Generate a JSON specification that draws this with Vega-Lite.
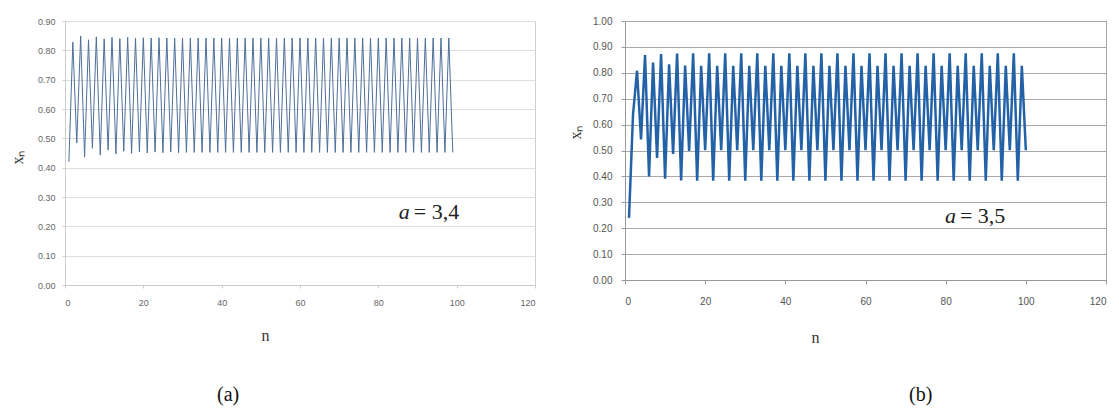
{
  "$schema": "https://vega.github.io/schema/vega-lite/v6.json",
  "background": "white",
  "padding": {"left": 8, "top": 15, "right": 0, "bottom": 0},
  "bounds": "flush",
  "spacing": 90,
  "datasets": {
    "a": [
      {"n":1,"x":0.420},{"n":2,"x":0.828},{"n":3,"x":0.484},{"n":4,"x":0.849},{"n":5,"x":0.436},{"n":6,"x":0.836},{"n":7,"x":0.466},{"n":8,"x":0.846},{"n":9,"x":0.443},{"n":10,"x":0.839},
      {"n":11,"x":0.460},{"n":12,"x":0.844},{"n":13,"x":0.447},{"n":14,"x":0.840},{"n":15,"x":0.456},{"n":16,"x":0.844},{"n":17,"x":0.449},{"n":18,"x":0.841},{"n":19,"x":0.454},{"n":20,"x":0.843},
      {"n":21,"x":0.450},{"n":22,"x":0.842},{"n":23,"x":0.453},{"n":24,"x":0.843},{"n":25,"x":0.451},{"n":26,"x":0.842},{"n":27,"x":0.453},{"n":28,"x":0.842},{"n":29,"x":0.451},{"n":30,"x":0.842},
      {"n":31,"x":0.452},{"n":32,"x":0.842},{"n":33,"x":0.452},{"n":34,"x":0.842},{"n":35,"x":0.452},{"n":36,"x":0.842},{"n":37,"x":0.452},{"n":38,"x":0.842},{"n":39,"x":0.452},{"n":40,"x":0.842},
      {"n":41,"x":0.452},{"n":42,"x":0.842},{"n":43,"x":0.452},{"n":44,"x":0.842},{"n":45,"x":0.452},{"n":46,"x":0.842},{"n":47,"x":0.452},{"n":48,"x":0.842},{"n":49,"x":0.452},{"n":50,"x":0.842},
      {"n":51,"x":0.452},{"n":52,"x":0.842},{"n":53,"x":0.452},{"n":54,"x":0.842},{"n":55,"x":0.452},{"n":56,"x":0.842},{"n":57,"x":0.452},{"n":58,"x":0.842},{"n":59,"x":0.452},{"n":60,"x":0.842},
      {"n":61,"x":0.452},{"n":62,"x":0.842},{"n":63,"x":0.452},{"n":64,"x":0.842},{"n":65,"x":0.452},{"n":66,"x":0.842},{"n":67,"x":0.452},{"n":68,"x":0.842},{"n":69,"x":0.452},{"n":70,"x":0.842},
      {"n":71,"x":0.452},{"n":72,"x":0.842},{"n":73,"x":0.452},{"n":74,"x":0.842},{"n":75,"x":0.452},{"n":76,"x":0.842},{"n":77,"x":0.452},{"n":78,"x":0.842},{"n":79,"x":0.452},{"n":80,"x":0.842},
      {"n":81,"x":0.452},{"n":82,"x":0.842},{"n":83,"x":0.452},{"n":84,"x":0.842},{"n":85,"x":0.452},{"n":86,"x":0.842},{"n":87,"x":0.452},{"n":88,"x":0.842},{"n":89,"x":0.452},{"n":90,"x":0.842},
      {"n":91,"x":0.452},{"n":92,"x":0.842},{"n":93,"x":0.452},{"n":94,"x":0.842},{"n":95,"x":0.452},{"n":96,"x":0.842},{"n":97,"x":0.452},{"n":98,"x":0.842},{"n":99,"x":0.452}
    ],
    "b": [
      {"n":1,"x":0.240},{"n":2,"x":0.638},{"n":3,"x":0.808},{"n":4,"x":0.543},{"n":5,"x":0.869},{"n":6,"x":0.400},{"n":7,"x":0.840},{"n":8,"x":0.471},{"n":9,"x":0.872},{"n":10,"x":0.391},
      {"n":11,"x":0.833},{"n":12,"x":0.487},{"n":13,"x":0.874},{"n":14,"x":0.384},{"n":15,"x":0.828},{"n":16,"x":0.498},{"n":17,"x":0.875},{"n":18,"x":0.383},{"n":19,"x":0.827},{"n":20,"x":0.501},
      {"n":21,"x":0.875},{"n":22,"x":0.383},{"n":23,"x":0.827},{"n":24,"x":0.501},{"n":25,"x":0.875},{"n":26,"x":0.383},{"n":27,"x":0.827},{"n":28,"x":0.501},{"n":29,"x":0.875},{"n":30,"x":0.383},
      {"n":31,"x":0.827},{"n":32,"x":0.501},{"n":33,"x":0.875},{"n":34,"x":0.383},{"n":35,"x":0.827},{"n":36,"x":0.501},{"n":37,"x":0.875},{"n":38,"x":0.383},{"n":39,"x":0.827},{"n":40,"x":0.501},
      {"n":41,"x":0.875},{"n":42,"x":0.383},{"n":43,"x":0.827},{"n":44,"x":0.501},{"n":45,"x":0.875},{"n":46,"x":0.383},{"n":47,"x":0.827},{"n":48,"x":0.501},{"n":49,"x":0.875},{"n":50,"x":0.383},
      {"n":51,"x":0.827},{"n":52,"x":0.501},{"n":53,"x":0.875},{"n":54,"x":0.383},{"n":55,"x":0.827},{"n":56,"x":0.501},{"n":57,"x":0.875},{"n":58,"x":0.383},{"n":59,"x":0.827},{"n":60,"x":0.501},
      {"n":61,"x":0.875},{"n":62,"x":0.383},{"n":63,"x":0.827},{"n":64,"x":0.501},{"n":65,"x":0.875},{"n":66,"x":0.383},{"n":67,"x":0.827},{"n":68,"x":0.501},{"n":69,"x":0.875},{"n":70,"x":0.383},
      {"n":71,"x":0.827},{"n":72,"x":0.501},{"n":73,"x":0.875},{"n":74,"x":0.383},{"n":75,"x":0.827},{"n":76,"x":0.501},{"n":77,"x":0.875},{"n":78,"x":0.383},{"n":79,"x":0.827},{"n":80,"x":0.501},
      {"n":81,"x":0.875},{"n":82,"x":0.383},{"n":83,"x":0.827},{"n":84,"x":0.501},{"n":85,"x":0.875},{"n":86,"x":0.383},{"n":87,"x":0.827},{"n":88,"x":0.501},{"n":89,"x":0.875},{"n":90,"x":0.383},
      {"n":91,"x":0.827},{"n":92,"x":0.501},{"n":93,"x":0.875},{"n":94,"x":0.383},{"n":95,"x":0.827},{"n":96,"x":0.501},{"n":97,"x":0.875},{"n":98,"x":0.383},{"n":99,"x":0.827},{"n":100,"x":0.501}
    ]
  },
  "config": {
    "axis": {"labelFont": "Liberation Sans", "titleFont": "Liberation Serif", "titleFontWeight": "normal", "titleColor": "#333", "grid": true, "labelOverlap": false, "tickCount": 20},
    "title": {"font": "Liberation Serif", "fontWeight": "normal", "fontSize": 20, "color": "#111"}
  },
  "hconcat": [
    {
      "width": 470,
      "height": 264,
      "view": {"stroke": "#cfcfcf", "strokeWidth": 1},
      "title": {"text": "(a)", "orient": "bottom", "anchor": "start", "dx": 208, "offset": 42},
      "layer": [
        {
          "data": {"name": "a"},
          "mark": {"type": "line", "color": "#4d6f9a", "strokeWidth": 1},
          "encoding": {
            "x": {"field": "n", "type": "quantitative", "scale": {"domain": [0, 120], "nice": false},
                  "axis": {"title": "n", "values": [0,20,40,60,80,100,120], "grid": false, "labelFontSize": 9, "labelColor": "#666", "tickSize": 3, "tickColor": "#ccc", "domainColor": "#ccc", "labelPadding": 10, "titleFontSize": 16, "titleX": 200, "titleY": 50, "titleBaseline": "middle"}},
            "y": {"field": "x", "type": "quantitative", "scale": {"domain": [0, 0.9], "nice": false},
                  "axis": {"title": "xₙ", "values": [0,0.1,0.2,0.3,0.4,0.5,0.6,0.7,0.8,0.9], "format": ".2f", "gridColor": "#dedede", "labelFontSize": 9, "labelColor": "#666", "tickSize": 3, "tickColor": "#ccc", "domainColor": "#ccc", "labelPadding": 7, "titleFontSize": 16, "titleX": -48, "titleY": 136, "titleAngle": -90, "titleAlign": "center", "titleBaseline": "middle"}}
          }
        },
        {
          "data": {"values": [{}]},
          "mark": {"type": "text", "text": "a", "font": "Liberation Serif", "fontStyle": "italic", "fontSize": 22, "align": "right", "baseline": "middle", "dx": -3, "color": "#222"},
          "encoding": {"x": {"datum": 88.8}, "y": {"datum": 0.25}}
        },
        {
          "data": {"values": [{}]},
          "mark": {"type": "text", "text": "= 3,4", "font": "Liberation Serif", "fontSize": 22, "align": "left", "baseline": "middle", "dx": 1, "color": "#222"},
          "encoding": {"x": {"datum": 88.8}, "y": {"datum": 0.25}}
        }
      ]
    },
    {
      "width": 481,
      "height": 259,
      "view": {"stroke": "#a8a8a8", "strokeWidth": 1},
      "title": {"text": "(b)", "orient": "bottom", "anchor": "start", "dx": 342, "offset": 40},
      "layer": [
        {
          "data": {"name": "b"},
          "mark": {"type": "line", "color": "#2462a8", "strokeWidth": 2.5},
          "encoding": {
            "x": {"field": "n", "type": "quantitative", "scale": {"domain": [0, 120], "nice": false},
                  "axis": {"title": "n", "values": [0,20,40,60,80,100,120], "grid": false, "labelFontSize": 10, "labelColor": "#555", "tickSize": 4, "tickColor": "#999", "domainColor": "#999", "labelPadding": 12, "titleFontSize": 16, "titleX": 190, "titleY": 57, "titleBaseline": "middle"}},
            "y": {"field": "x", "type": "quantitative", "scale": {"domain": [0, 1], "nice": false},
                  "axis": {"title": "xₙ", "values": [0,0.1,0.2,0.3,0.4,0.5,0.6,0.7,0.8,0.9,1], "format": ".2f", "gridColor": "#a8a8a8", "gridWidth": 1.2, "labelFontSize": 10, "labelColor": "#555", "tickSize": 4, "tickColor": "#999", "domainColor": "#999", "labelPadding": 9, "titleFontSize": 16, "titleX": -50, "titleY": 111, "titleAngle": -90, "titleAlign": "center", "titleBaseline": "middle"}}
          }
        },
        {
          "data": {"values": [{}]},
          "mark": {"type": "text", "text": "a", "font": "Liberation Serif", "fontStyle": "italic", "fontSize": 22, "align": "right", "baseline": "middle", "dx": -3, "color": "#222"},
          "encoding": {"x": {"datum": 83.3}, "y": {"datum": 0.246}}
        },
        {
          "data": {"values": [{}]},
          "mark": {"type": "text", "text": "= 3,5", "font": "Liberation Serif", "fontSize": 22, "align": "left", "baseline": "middle", "dx": 1, "color": "#222"},
          "encoding": {"x": {"datum": 83.3}, "y": {"datum": 0.246}}
        }
      ]
    }
  ]
}
